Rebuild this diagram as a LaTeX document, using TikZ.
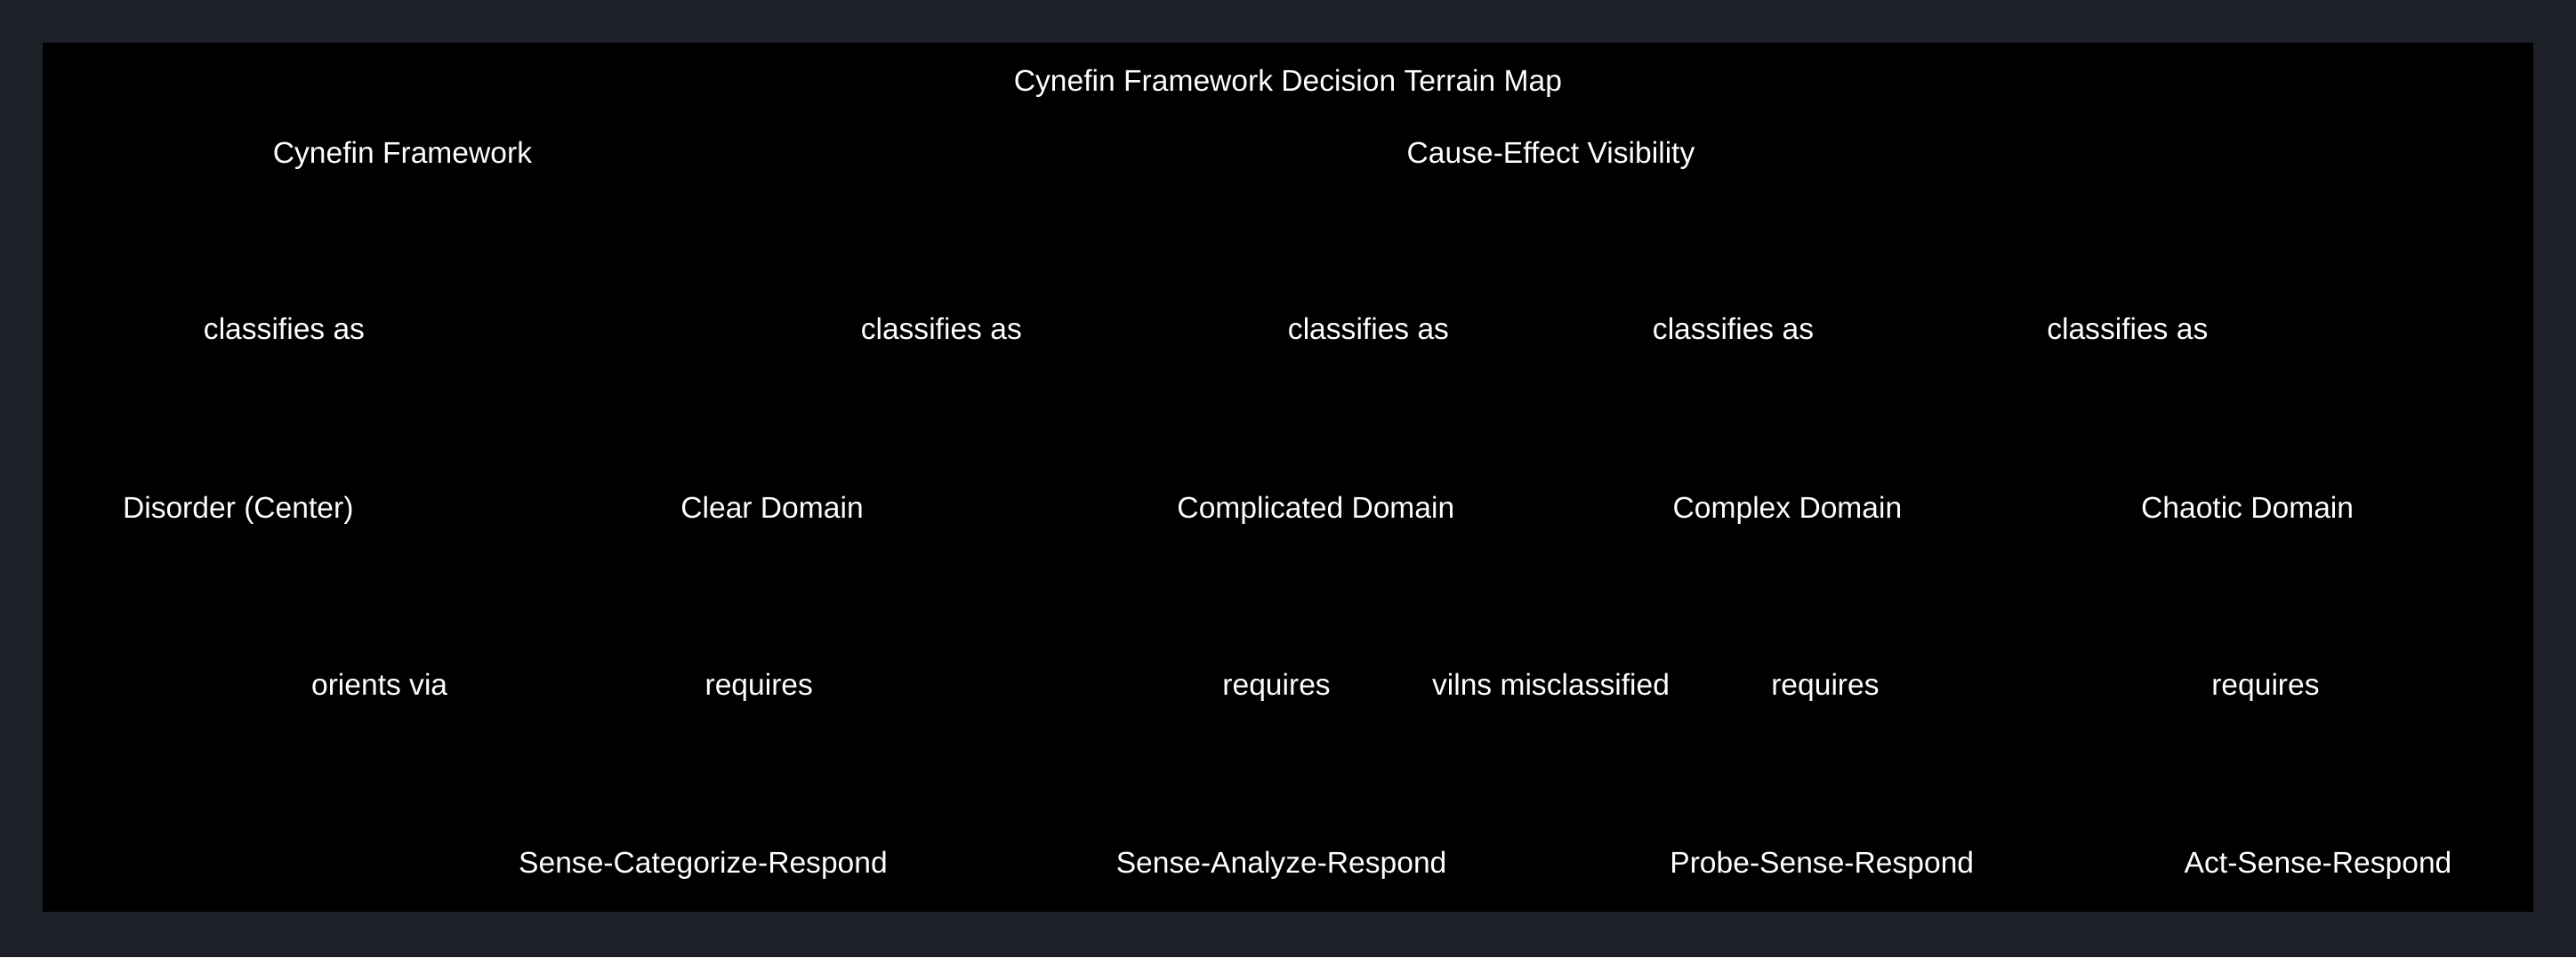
\documentclass[tikz,border=0pt]{standalone}
\usepackage{fontspec}
\setmainfont{Liberation Sans}
\begin{document}
\begin{tikzpicture}[x=0.46175pt,y=-0.46175pt,
  lbl/.style={text=white,font=\fontsize{8.4pt}{10pt}\selectfont,inner sep=0pt,text height=1.6ex,text depth=0.45ex,yshift=-0.8pt}]
\fill[fill={rgb,255:red,29;green,32;blue,39}] (0,0) rectangle (1568,582.6);
\useasboundingbox (0,0) rectangle (1568,582.6);
\fill[black] (26,26) rectangle (1542,555);
\node[lbl] (title) at (784,47) {Cynefin Framework Decision Terrain Map};
\node[lbl] (cf) at (245,91) {Cynefin Framework};
\node[lbl] (cev) at (944,91) {Cause-Effect Visibility};
\node[lbl] (c1) at (173,198) {classifies as};
\node[lbl] (c2) at (573,198) {classifies as};
\node[lbl] (c3) at (833,198) {classifies as};
\node[lbl] (c4) at (1055,198) {classifies as};
\node[lbl] (c5) at (1295,198) {classifies as};
\node[lbl] (dis) at (145,307) {Disorder (Center)};
\node[lbl] (clr) at (470,307) {Clear Domain};
\node[lbl] (cpd) at (801,307) {Complicated Domain};
\node[lbl] (cpx) at (1088,307) {Complex Domain};
\node[lbl] (cha) at (1368,307) {Chaotic Domain};
\node[lbl] (ov) at (231,415) {orients via};
\node[lbl] (r1) at (462,415) {requires};
\node[lbl] (r2) at (777,415) {requires};
\node[lbl] (vm) at (944,415) {vilns misclassified};
\node[lbl] (r3) at (1111,415) {requires};
\node[lbl] (r4) at (1379,415) {requires};
\node[lbl] (scr) at (428,523) {Sense-Categorize-Respond};
\node[lbl] (sar) at (780,523) {Sense-Analyze-Respond};
\node[lbl] (psr) at (1109,523) {Probe-Sense-Respond};
\node[lbl] (asr) at (1411,523) {Act-Sense-Respond};
\end{tikzpicture}
\end{document}
